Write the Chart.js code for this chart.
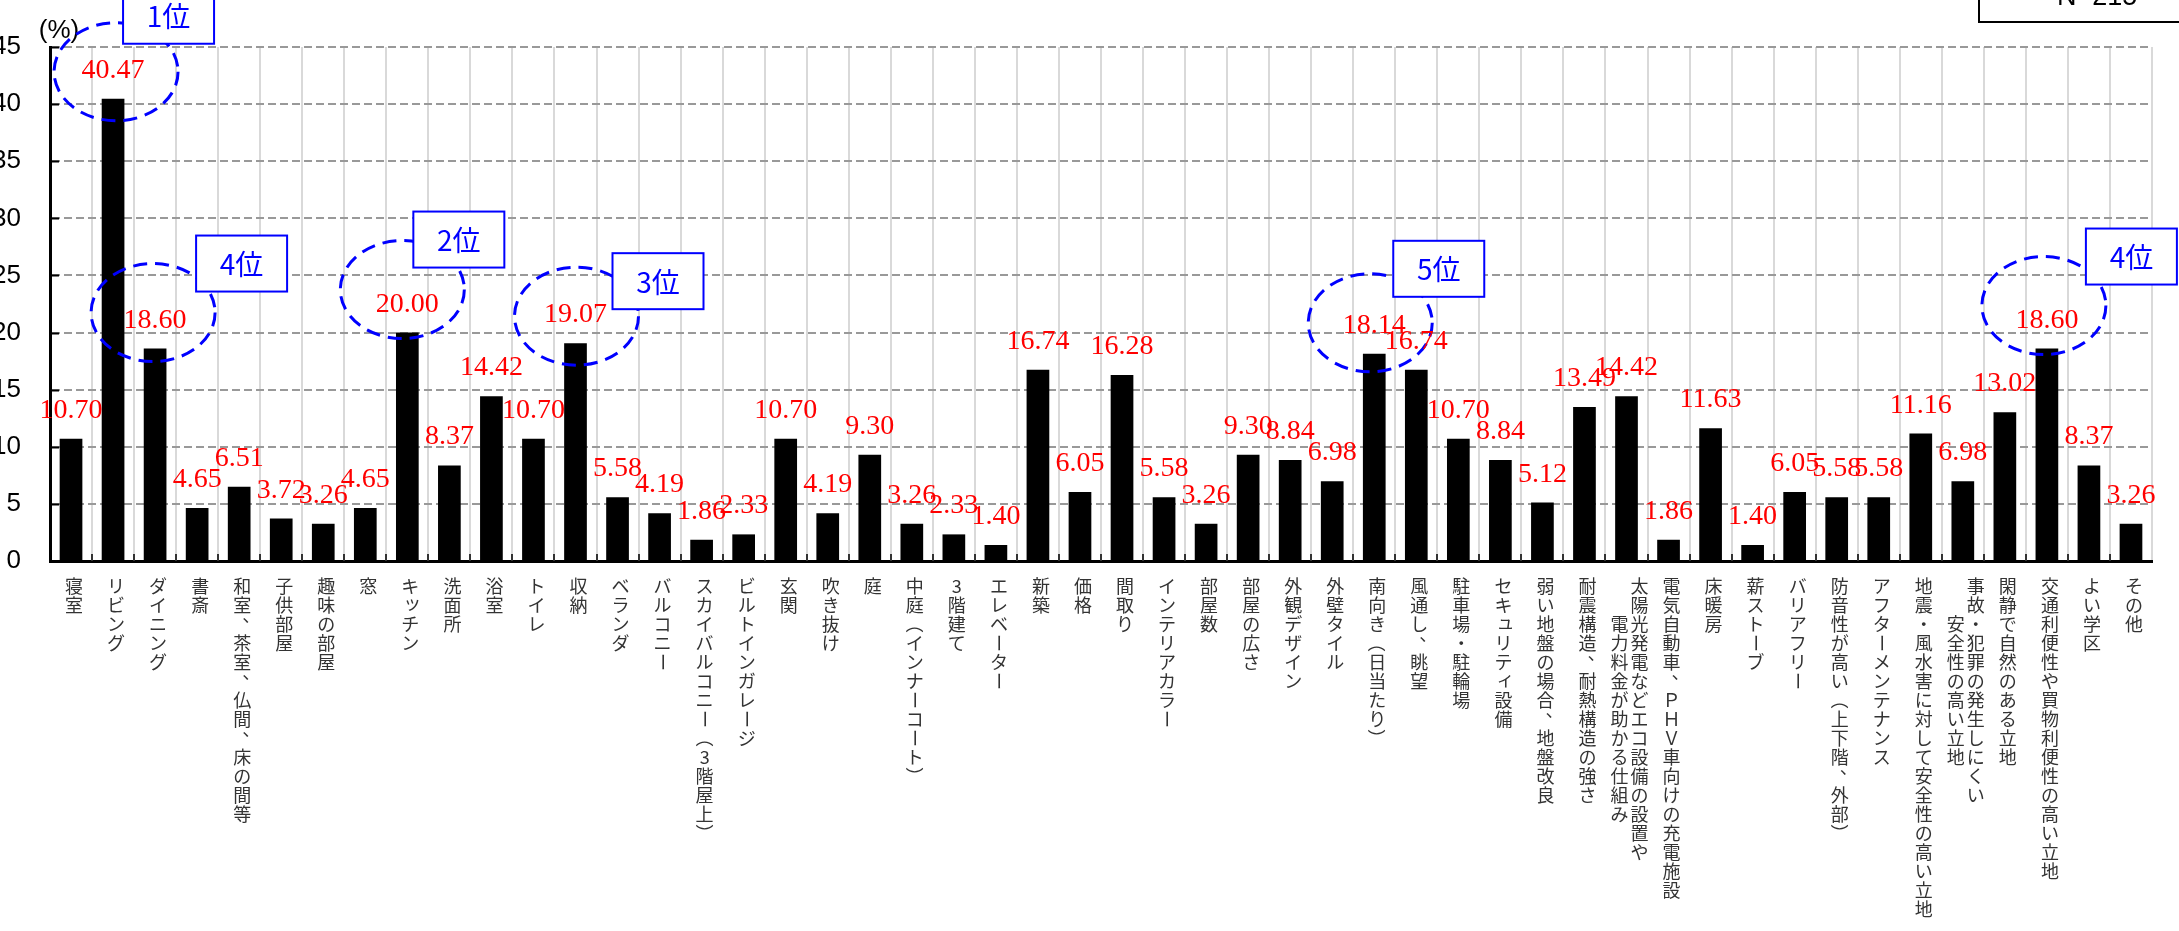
<!DOCTYPE html>
<html>
<head>
<meta charset="utf-8">
<script src="https://cdn.jsdelivr.net/npm/chart.js@4.4.1/dist/chart.umd.min.js"></script>
<style>
  html, body { margin: 0; padding: 0; background: #fff; }
  #wrap { width: 2179px; height: 931px; }
</style>
</head>
<body>
<div id="wrap"><canvas id="rankChart" width="2179" height="931"></canvas></div>
<script>
// 項目名（2列になるものは \n で区切る）
const categories = [
  '寝室', 'リビング', 'ダイニング', '書斎', '和室、茶室、仏間、床の間等', '子供部屋', '趣味の部屋', '窓',
  'キッチン', '洗面所', '浴室', 'トイレ', '収納', 'ベランダ', 'バルコニー', 'スカイバルコニー（3階屋上）',
  'ビルトインガレージ', '玄関', '吹き抜け', '庭', '中庭（インナーコート）', '3階建て', 'エレベーター', '新築',
  '価格', '間取り', 'インテリアカラー', '部屋数', '部屋の広さ', '外観デザイン', '外壁タイル', '南向き（日当たり）',
  '風通し、眺望', '駐車場・駐輪場', 'セキュリティ設備', '弱い地盤の場合、地盤改良', '耐震構造、耐熱構造の強さ',
  '太陽光発電などエコ設備の設置や\n電力料金が助かる仕組み', '電気自動車、ＰＨＶ車向けの充電施設', '床暖房',
  '薪ストーブ', 'バリアフリー', '防音性が高い（上下階、外部）', 'アフターメンテナンス',
  '地震・風水害に対して安全性の高い立地', '事故・犯罪の発生しにくい\n安全性の高い立地',
  '閑静で自然のある立地', '交通利便性や買物利便性の高い立地', 'よい学区', 'その他'
];

const percents = [
  10.70, 40.47, 18.60, 4.65, 6.51, 3.72, 3.26, 4.65,
  20.00, 8.37, 14.42, 10.70, 19.07, 5.58, 4.19, 1.86,
  2.33, 10.70, 4.19, 9.30, 3.26, 2.33, 1.40, 16.74,
  6.05, 16.28, 5.58, 3.26, 9.30, 8.84, 6.98, 18.14,
  16.74, 10.70, 8.84, 5.12, 13.49,
  14.42, 1.86, 11.63,
  1.40, 6.05, 5.58, 5.58,
  11.16, 6.98,
  13.02, 18.60, 8.37, 3.26
];

const yTicks = [0, 5, 10, 15, 20, 25, 30, 35, 40, 45];

// 順位の付いた項目
const rankIndex = [1, 8, 12, 2, 47, 31];
const rankLabels = ['1位', '2位', '3位', '4位', '4位', '5位'];

const sampleText = 'N=215';
const unitText = '(%)';

// 円と順位ボックスの位置（棒の上端からのずれ）
const markOffsets = {
  1:  { dx: 3,  dy: -27, bx: 10, by: -111 },
  2:  { dx: -2, dy: -36, bx: 41, by: -113 },
  8:  { dx: -5, dy: -43, bx: 6,  by: -121 },
  12: { dx: 1,  dy: -27, bx: 37, by: -90 },
  31: { dx: -4, dy: -31, bx: 19, by: -113 },
  47: { dx: -3, dy: -43, bx: 39, by: -120 }
};

const rotateChars = 'ー（）()〜～';
const smallKana = 'ッャュョィァェォ';

function drawColumn(ctx, text, x, y, pitch) {
  for (let i = 0; i < text.length; i++) {
    const ch = text[i];
    const cy = y + i * pitch;
    ctx.save();
    if (rotateChars.includes(ch)) {
      ctx.translate(x, cy);
      ctx.rotate(Math.PI / 2);
      ctx.fillText(ch, 0, 0);
    } else if (ch === '、' || ch === '。') {
      ctx.fillText(ch, x + 9, cy - 9);
    } else if (smallKana.includes(ch)) {
      ctx.fillText(ch, x + 2, cy - 2);
    } else {
      ctx.fillText(ch, x, cy);
    }
    ctx.restore();
  }
}

const decorations = {
  id: 'decorations',
  afterDraw(chart) {
    const ctx = chart.ctx;
    const area = chart.chartArea;
    const xs = chart.scales.x;
    const ys = chart.scales.y;
    const bars = chart.getDatasetMeta(0).data;
    const step = xs.getPixelForValue(1) - xs.getPixelForValue(0);

    ctx.save();
    // 目盛り（内向き）
    ctx.strokeStyle = '#000';
    ctx.lineWidth = 2;
    yTicks.forEach(v => {
      if (v === 0) return;
      const y = Math.round(ys.getPixelForValue(v)) + 0.5;
      ctx.beginPath();
      ctx.moveTo(area.left, y);
      ctx.lineTo(area.left + 9, y);
      ctx.stroke();
    });
    ctx.strokeStyle = '#333';
    for (let i = 1; i < categories.length; i++) {
      const x = Math.round(xs.getPixelForValue(i) - step / 2);
      ctx.beginPath();
      ctx.moveTo(x, area.bottom);
      ctx.lineTo(x, area.bottom - 7);
      ctx.stroke();
    }

    // 項目名（縦書き）
    ctx.fillStyle = '#333';
    ctx.font = '18px "Noto Sans CJK JP"';
    ctx.textAlign = 'center';
    ctx.textBaseline = 'middle';
    categories.forEach((label, i) => {
      const x = xs.getPixelForValue(i) + 3;
      const cols = label.split('\n');
      const maxLen = Math.max(...cols.map(c => c.length));
      cols.forEach((col, c) => {
        const cx = cols.length > 1 ? x + 10 - c * 20 : x;
        const shift = (maxLen - col.length) / 2;
        drawColumn(ctx, col, cx, area.bottom + 25 + shift * 19, 19);
      });
    });

    // 単位
    ctx.fillStyle = '#000';
    ctx.font = '26px "Liberation Sans"';
    ctx.fillText(unitText, 59, 31);

    // N= のボックス
    ctx.strokeStyle = '#000';
    ctx.lineWidth = 2;
    ctx.strokeRect(1979, -10, 220, 32);
    ctx.textAlign = 'left';
    ctx.textBaseline = 'alphabetic';
    ctx.font = '27px "Liberation Sans"';
    ctx.fillText(sampleText, 2057, 5);

    // 順位の円
    ctx.strokeStyle = '#0000ff';
    ctx.lineWidth = 3;
    ctx.setLineDash([14, 8]);
    rankIndex.forEach(idx => {
      const bar = bars[idx];
      const o = markOffsets[idx];
      ctx.beginPath();
      ctx.ellipse(bar.x + o.dx, bar.y + o.dy, 62, 49, 0, 0, Math.PI * 2);
      ctx.stroke();
    });
    ctx.setLineDash([]);

    // 数値ラベル
    ctx.fillStyle = '#ff0000';
    ctx.font = '28px "Liberation Serif", "DejaVu Serif", serif';
    ctx.textAlign = 'center';
    ctx.textBaseline = 'alphabetic';
    bars.forEach((bar, i) => {
      ctx.fillText(percents[i].toFixed(2), bar.x, bar.y - 21);
    });

    // 順位ボックス
    rankIndex.forEach((idx, k) => {
      const bar = bars[idx];
      const o = markOffsets[idx];
      const left = bar.x + o.bx;
      const top = bar.y + o.by;
      ctx.fillStyle = '#fff';
      ctx.fillRect(left, top, 91, 56);
      ctx.strokeStyle = '#0000ff';
      ctx.lineWidth = 2;
      ctx.strokeRect(left, top, 91, 56);
      ctx.fillStyle = '#0000ff';
      ctx.font = '28px "Noto Sans CJK JP"';
      ctx.textAlign = 'center';
      ctx.textBaseline = 'middle';
      ctx.fillText(rankLabels[k], left + 45.5, top + 29);
    });
    ctx.restore();
  }
};

const loadChart = () => {
  const ctx = document.getElementById('rankChart').getContext('2d');

  new Chart(ctx, {
    type: 'bar',
    data: {
      labels: categories,
      datasets: [{
        data: percents,
        backgroundColor: '#000',
        barPercentage: 0.54,
        categoryPercentage: 1.0
      }]
    },
    options: {
      responsive: false,
      animation: false,
      devicePixelRatio: 1,
      layout: { padding: { top: 47, right: 27, bottom: 0, left: 0 } },
      plugins: {
        legend: { display: false },
        tooltip: { enabled: false }
      },
      scales: {
        x: {
          grid: { color: '#d9d9d9', lineWidth: 2, drawTicks: false, offset: true },
          border: { color: '#000', width: 3, z: 1 },
          ticks: { display: false },
          afterFit: s => { s.height = 370; }
        },
        y: {
          min: 0,
          max: 45,
          afterBuildTicks: s => { s.ticks = yTicks.map(v => ({ value: v })); },
          ticks: { padding: 29, color: '#000', font: { family: 'Liberation Sans', size: 26 } },
          grid: { color: '#999', lineWidth: 2, drawTicks: false },
          border: { color: '#000', width: 3, dash: [8, 4], z: 1 },
          afterFit: s => { s.width = 50; }
        }
      }
    },
    plugins: [decorations]
  });
};

document.addEventListener('DOMContentLoaded', loadChart);
</script>
</body>
</html>
